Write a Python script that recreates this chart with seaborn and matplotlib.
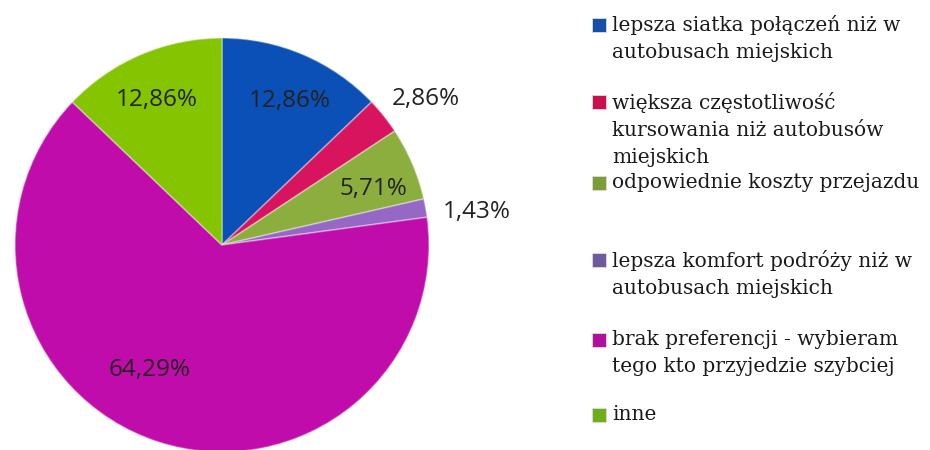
import matplotlib
matplotlib.use("Agg")
import matplotlib.pyplot as plt
import seaborn as sns
from matplotlib.patches import Rectangle
import numpy as np

sns.set_theme(style="white")

# ------------------------------
# Data
# ------------------------------
categories = [
    "lepsza siatka połączeń niż w\nautobusach miejskich",
    "większa częstotliwość\nkursowania niż autobusów\nmiejskich",
    "odpowiednie koszty przejazdu",
    "lepsza komfort podróży niż w\nautobusach miejskich",
    "brak preferencji - wybieram\ntego kto przyjedzie szybciej",
    "inne",
]
shares = [12.86, 2.86, 5.71, 1.43, 64.29, 12.86]
pct_labels = ["12,86%", "2,86%", "5,71%", "1,43%", "64,29%", "12,86%"]

colors = ["#0A50B6", "#D8145E", "#8BAE3E", "#9468C4", "#C00CAA", "#84C400"]
legend_colors = ["#174EA8", "#C8104E", "#7C9C3A", "#6E5A9C", "#B0109C", "#6EAE18"]

# label placement: distance from centre (radius units) and angle tweak (deg)
label_dist = [0.77, 1.21, 0.78, 1.24, 0.70, 0.77]
label_shift = [-2, -3, -3, -3, -12, 1]

fig = plt.figure(figsize=(9.3, 4.5), dpi=100)

# pie axes: centre at (222, 245) px, radius ~207 px
r_px = 207
ax = fig.add_axes([(222 - r_px) / 930, (205 - r_px) / 450,
                   2 * r_px / 930, 2 * r_px / 450])
wedges, _ = ax.pie(
    shares,
    colors=colors,
    startangle=90,
    counterclock=False,
    wedgeprops=dict(edgecolor=(1, 1, 1, 0.35), linewidth=1.2),
)
ax.set_xlim(-1, 1)
ax.set_ylim(-1, 1)
ax.set_aspect("equal")
ax.axis("off")

for w, txt, d, sh in zip(wedges, pct_labels, label_dist, label_shift):
    ang = np.deg2rad((w.theta1 + w.theta2) / 2 + sh)
    ax.text(d * np.cos(ang), d * np.sin(ang), txt,
            ha="center", va="center", fontsize=17.5,
            family=["Open Sans", "DejaVu Sans"], color="#222222")

# ------------------------------
# Legend (drawn by hand, evenly spaced like the original)
# ------------------------------
marker_y = [25, 102, 183, 260, 340, 415]
for col, lab, y in zip(legend_colors, categories, marker_y):
    fig.patches.append(Rectangle(((592) / 930, 1 - (y + 7) / 450),
                                 14 / 930, 14 / 450,
                                 transform=fig.transFigure, figure=fig,
                                 facecolor=col, edgecolor="#dddddd",
                                 linewidth=0.6))
    fig.text(612 / 930, 1 - (y - 10) / 450, lab, ha="left", va="top",
             fontsize=14.5, linespacing=1.52,
             family=["DejaVu Serif"], color="#1a1a1a")

fig.savefig("out.png", dpi=100, facecolor="white")
